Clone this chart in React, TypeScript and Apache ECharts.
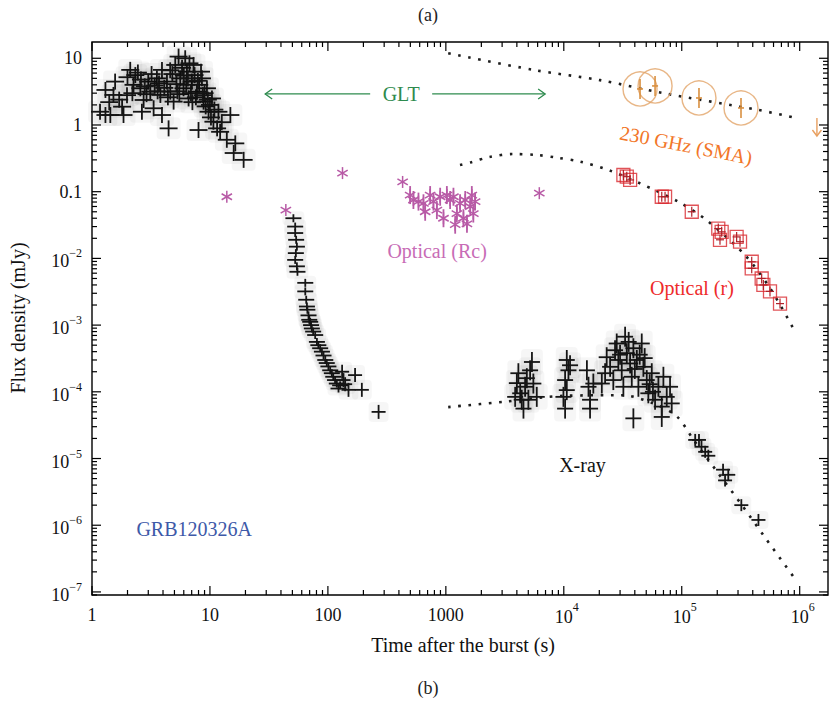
import React, { useEffect, useRef } from 'react';
import * as echarts from 'echarts';

// ---------------- data (time in s, flux density in mJy) ----------------
const batPoints: [number, number][] = [
  [1.17, 1.58], [1.3, 1.41], [1.43, 1.41], [1.3, 3.35], [1.57, 4.47], [1.52, 2.82], [1.85, 1.41], [1.8, 1.88],
  [2.11, 6.7], [2.33, 5.6], [2.25, 4.0], [1.98, 2.8], [2.57, 3.55], [2.74, 2.37], [2.65, 1.58], [3.0, 4.47],
  [3.12, 3.16], [3.33, 1.78], [3.55, 5.0], [3.8, 2.82], [3.92, 6.7], [3.92, 1.41], [4.46, 0.89], [4.32, 4.47],
  [4.61, 3.16], [4.92, 2.24], [5.08, 7.94], [5.42, 10.6], [5.6, 5.0], [5.97, 3.55], [6.17, 10], [6.38, 6.3],
  [6.59, 2.5], [7.03, 4.47], [7.26, 7.94], [7.76, 3.16], [8.0, 0.84], [8.55, 5.0], [8.83, 2.24], [9.43, 3.55],
  [9.73, 1.58], [10.4, 2.5], [10.7, 1.12], [11.5, 0.89], [12.2, 0.79], [11.8, 1.58], [14.9, 1.41], [13.9, 0.6],
  [16.4, 0.53], [15.9, 0.38], [19.3, 0.3],
  [2.0, 5.2], [2.45, 6.1], [2.9, 2.9], [3.4, 3.9], [3.7, 4.2], [4.1, 3.6], [4.4, 2.6], [4.8, 5.8], [5.2, 4.1],
  [5.5, 2.9], [5.8, 7.2], [6.0, 5.5], [6.3, 4.0], [6.7, 8.4], [6.9, 3.0], [7.4, 5.6], [7.6, 2.6], [8.1, 4.0],
  [8.4, 6.3], [9.0, 3.0], [9.2, 1.9], [10.0, 2.0], [10.2, 1.3], [10.9, 1.7], [1.7, 2.4], [2.2, 3.0], [2.6, 4.8],
  [3.2, 5.8], [1.4, 2.2], [12.6, 1.1], [4.6, 6.6], [5.3, 3.2], [6.5, 5.0], [7.1, 2.2], [7.9, 4.6], [8.7, 2.8],
  [9.6, 2.4], [3.6, 3.2], [2.8, 3.8],
];

const xrtSteep: [number, number][] = [
  [51, 0.04], [52.8, 0.03], [52.8, 0.024], [53.8, 0.019], [54.6, 0.015], [53.5, 0.012], [52.8, 0.0095],
  [54.6, 0.0076], [55.2, 0.0063], [64.3, 0.0043], [64.3, 0.0032], [65.5, 0.0024], [66.4, 0.0019],
  [67, 0.0017], [68.5, 0.0014], [69.5, 0.0012], [70.8, 0.00112], [72, 0.001], [73.1, 0.00089], [75, 0.0008],
  [78, 0.00071], [80.7, 0.00056], [83, 0.0005], [86, 0.00045], [89, 0.0004], [91.8, 0.00035], [95, 0.0003],
  [97.8, 0.00027], [101, 0.00024], [104.6, 0.00021], [108, 0.00019], [111, 0.000168], [115, 0.00015],
  [119, 0.000133], [123, 0.000112], [127, 0.000125],
];

const xrtTail: [number, number][] = [
  [132, 0.0002], [135.6, 0.00015], [140, 0.00013], [149.5, 0.000107], [170, 0.000178], [194, 0.000107],
  [269, 0.00005],
];

const xrtPlateau: [number, number][] = [
  [4000, 1.35e-4], [4120, 1.9e-4], [4270, 9.5e-5], [4400, 7.6e-5], [4550, 5.6e-5], [4700, 1.19e-4],
  [4860, 1.6e-4], [5180, 2.1e-4], [5370, 2.8e-4], [5520, 1.33e-4], [5900, 8.4e-5], [3870, 8.4e-5], [5010, 7.6e-5],
  [10600, 3.0e-4], [10950, 2.1e-4], [10260, 1.5e-4], [10600, 1.06e-4], [9930, 8.4e-5], [10260, 5.6e-5],
  [11300, 2.5e-4],
  [15700, 2.1e-4], [16200, 1.19e-4], [16700, 7.6e-5], [16700, 5.6e-5], [17800, 1.33e-4],
  [21000, 1.33e-4], [22400, 1.9e-4], [23100, 3.3e-4], [24700, 2.37e-4], [27200, 4.2e-4], [28100, 5.3e-4],
  [29000, 3.0e-4], [31000, 2.1e-4], [33100, 6.7e-4], [34200, 3.8e-4], [36500, 2.66e-4], [37700, 1.68e-4],
  [38900, 4.5e-4], [41600, 3.0e-4], [42900, 1.19e-4], [45800, 5.3e-4], [47300, 2.37e-4], [50500, 1.5e-4],
  [52100, 9.5e-5], [55700, 1.9e-4], [59400, 7.6e-5], [63400, 1.19e-4], [67700, 6e-5], [69900, 1.68e-4],
  [74600, 8.4e-5], [79600, 1.19e-4], [82200, 6.7e-5], [38900, 4.0e-5], [67700, 4.2e-5], [26300, 1.5e-4],
  [32000, 1.19e-4], [30000, 3.6e-4], [35500, 5.6e-4], [40000, 2.2e-4], [44000, 3.6e-4], [48500, 3.2e-4],
  [53500, 1.3e-4], [57000, 1.0e-4],
];

const xrtDecay: [number, number][] = [
  [130000, 1.9e-5], [140000, 1.9e-5], [147000, 1.5e-5], [158000, 1.26e-5], [168000, 1.1e-5],
  [224000, 6.8e-6], [248000, 5.7e-6], [233000, 4.7e-6], [320000, 2.0e-6], [447000, 1.2e-6],
];

const rcSingles: [number, number][] = [
  [13.9, 0.084], [44, 0.053], [133, 0.19], [430, 0.14], [6200, 0.095],
];

const rcCluster: [number, number][] = [
  [498, 0.089], [531, 0.075], [586, 0.071], [668, 0.05], [646, 0.067], [736, 0.089], [785, 0.071], [839, 0.053],
  [895, 0.084], [955, 0.04], [1020, 0.089], [1087, 0.075], [1160, 0.084], [1240, 0.047], [1320, 0.067],
  [1410, 0.04], [1460, 0.075], [1660, 0.089], [1610, 0.06], [1710, 0.047], [1770, 0.071], [1200, 0.032],
  [1510, 0.033],
];

const rPoints: [number, number][] = [
  [32000, 0.178], [34200, 0.168], [36500, 0.15], [67700, 0.084], [72200, 0.084], [121600, 0.05],
  [204000, 0.028], [211000, 0.019], [218000, 0.025], [292000, 0.021], [312000, 0.0178], [392000, 0.0089],
  [392000, 0.0071], [476000, 0.005], [492000, 0.004], [560000, 0.0032], [681000, 0.0021],
];

const smaPoints: [number, number][] = [[44300, 3.47], [59400, 3.85], [140000, 2.54], [318000, 1.8]];
const smaUpperLimit: [number, number][] = [[1400000, 0.9]];

const radioModel: [number, number][] = [
  [1047, 11.9], [5520, 6.7], [20300, 4.7], [69800, 3.0], [447000, 1.68], [883000, 1.3],
];
const opticalModel: [number, number][] = [
  [1318, 0.251], [1622, 0.275], [2344, 0.331], [3715, 0.367], [5888, 0.355], [8710, 0.324], [13800, 0.282],
  [23900, 0.211], [44400, 0.133], [93300, 0.0708], [162000, 0.0376], [344000, 0.0112], [562000, 0.00355],
  [883000, 0.00089],
];
const xrayModel: [number, number][] = [
  [1047, 5.9e-5], [3162, 7.1e-5], [10000, 8.7e-5], [31600, 8.9e-5], [56200, 6.8e-5], [90600, 4.3e-5],
  [126000, 1.9e-5], [200000, 6.3e-6], [324000, 2.0e-6], [501000, 6.8e-7], [883000, 1.7e-7],
];

const xTickValues = [1, 10, 100, 1000, 1e4, 1e5, 1e6];
const xTickLabels: [string, string][] = [['1', ''], ['10', ''], ['100', ''], ['1000', ''], ['10', '4'], ['10', '5'], ['10', '6']];
const yTickValues = [10, 1, 0.1, 1e-2, 1e-3, 1e-4, 1e-5, 1e-6, 1e-7];
const yTickLabels: [string, string][] = [
  ['10', ''], ['1', ''], ['0.1', ''], ['10', '\u22122'], ['10', '\u22123'], ['10', '\u22124'], ['10', '\u22125'],
  ['10', '\u22126'], ['10', '\u22127'],
];

const gltSpan = { from: 29.4, to: 6950, flux: 2.92, labelT: 418 };

const annotations = [
  { text: 'GLT', t: 418, f: 2.92, color: '#2e8b4e', rot: 0 },
  { text: 'Optical (Rc)', t: 843, f: 0.0129, color: '#c86cb6', rot: 0 },
  { text: '230 GHz (SMA)', t: 108900, f: 0.5, color: '#f27628', rot: -0.19 },
  { text: 'Optical (r)', t: 122000, f: 0.0036, color: '#ee2a2a', rot: 0 },
  { text: 'X-ray', t: 14400, f: 8.0e-6, color: '#111111', rot: 0 },
  { text: 'GRB120326A', t: 7.35, f: 8.8e-7, color: '#3d59a8', rot: 0 },
];

// ---------------- layout constants ----------------
const X_MIN = 1;
const X_MAX = Math.pow(10, 6.24);
const Y_MIN = Math.pow(10, -7.046);
const Y_MAX = Math.pow(10, 1.244);
const FONT = '"Liberation Serif", "Times New Roman", serif';
const TICK_SIZE = 18;
const SUP_SIZE = 12;

let measureCtx: CanvasRenderingContext2D | null = null;
function measure(text: string, size: number): number {
  if (!measureCtx) measureCtx = document.createElement('canvas').getContext('2d');
  if (!measureCtx) return text.length * size * 0.5;
  measureCtx.font = `${size}px ${FONT}`;
  return measureCtx.measureText(text).width;
}

function crossSeries(name: string, data: [number, number][], hw: number, hh: number, color: string, lw: number, halo: boolean, z = 5) {
  return {
    type: 'custom',
    name,
    data,
    z,
    silent: true,
    clip: false,
    renderItem: (params: any, api: any) => {
      const p = api.coord([api.value(0), api.value(1)]);
      const children: any[] = [];
      if (halo) {
        children.push({
          type: 'rect',
          shape: { x: p[0] - hw - 3, y: p[1] - hh - 3, width: 2 * hw + 6, height: 2 * hh + 6, r: 4 },
          style: { fill: 'rgba(0,0,0,0.035)' },
        });
      }
      children.push({ type: 'line', shape: { x1: p[0] - hw, y1: p[1], x2: p[0] + hw, y2: p[1] }, style: { stroke: color, lineWidth: lw } });
      children.push({ type: 'line', shape: { x1: p[0], y1: p[1] - hh, x2: p[0], y2: p[1] + hh }, style: { stroke: color, lineWidth: lw } });
      return { type: 'group', children };
    },
  };
}

function starSeries(name: string, data: [number, number][], r: number, bar: number, color: string) {
  return {
    type: 'custom',
    name,
    data,
    z: 6,
    silent: true,
    clip: false,
    renderItem: (params: any, api: any) => {
      const p = api.coord([api.value(0), api.value(1)]);
      const children: any[] = [];
      const angles = [Math.PI / 2, Math.PI / 6, (5 * Math.PI) / 6];
      angles.forEach((a) => {
        const dx = Math.cos(a) * r;
        const dy = Math.sin(a) * r;
        children.push({ type: 'line', shape: { x1: p[0] - dx, y1: p[1] - dy, x2: p[0] + dx, y2: p[1] + dy }, style: { stroke: color, lineWidth: 1.5 } });
      });
      if (bar > 0) {
        children.push({ type: 'line', shape: { x1: p[0], y1: p[1] - bar, x2: p[0], y2: p[1] + bar }, style: { stroke: color, lineWidth: 1.8 } });
      }
      return { type: 'group', children };
    },
  };
}

function dottedLine(name: string, data: [number, number][]) {
  return {
    type: 'line',
    name,
    data,
    z: 3,
    silent: true,
    showSymbol: false,
    smooth: 0.3,
    lineStyle: { color: '#1e1e1e', width: 2.6, type: [2.6, 7.6] },
  };
}

export default function App() {
  const ref = useRef<HTMLDivElement>(null);

  useEffect(() => {
    document.body.style.margin = '0';
    if (!ref.current) return;
    const chart = echarts.init(ref.current, null, { renderer: 'svg' });

    const ticksSeries = {
      type: 'custom',
      name: 'axes',
      data: [[1, 1]],
      z: 10,
      silent: true,
      clip: false,
      renderItem: (params: any, api: any) => {
        const cs = params.coordSys;
        const left = cs.x;
        const right = cs.x + cs.width;
        const top = cs.y;
        const bottom = cs.y + cs.height;
        const children: any[] = [];
        const tick = (x1: number, y1: number, x2: number, y2: number) =>
          children.push({ type: 'line', shape: { x1, y1, x2, y2 }, style: { stroke: '#000', lineWidth: 1.2 } });
        const text = (t: string, x: number, y: number, size: number, align: string) =>
          children.push({
            type: 'text',
            style: { text: t, x, y, font: `${size}px ${FONT}`, fill: '#111', align, verticalAlign: 'middle' },
          });
        xTickValues.forEach((v, i) => {
          const x = api.coord([v, Y_MIN])[0];
          tick(x, bottom, x, bottom - 9);
          tick(x, top, x, top + 9);
          for (let m = 2; m <= 9; m++) {
            const mv = v * m;
            if (mv > X_MAX) break;
            const mx = api.coord([mv, Y_MIN])[0];
            tick(mx, bottom, mx, bottom - 5);
            tick(mx, top, mx, top + 5);
          }
          const [base, sup] = xTickLabels[i];
          if (!sup) {
            text(base, x, bottom + 20, TICK_SIZE, 'center');
          } else {
            const wb = measure(base, TICK_SIZE);
            text(base, x, bottom + 22, TICK_SIZE, 'center');
            text(sup, x + wb / 2, bottom + 12, SUP_SIZE, 'left');
          }
        });
        yTickValues.forEach((v, i) => {
          const y = api.coord([X_MIN, v])[1];
          tick(left, y, left + 9, y);
          tick(right, y, right - 9, y);
          for (let m = 2; m <= 9; m++) {
            const mv = v * m;
            if (mv > Y_MAX) break;
            const my = api.coord([X_MIN, mv])[1];
            tick(left, my, left + 5, my);
            tick(right, my, right - 5, my);
          }
          const [base, sup] = yTickLabels[i];
          const rx = left - 10;
          if (!sup) {
            text(base, rx, y, TICK_SIZE, 'right');
          } else {
            const ws = measure(sup, SUP_SIZE);
            text(sup, rx, y - 5, SUP_SIZE, 'right');
            text(base, rx - ws, y + 3, TICK_SIZE, 'right');
          }
        });
        for (let m = 2; m <= 9; m++) {
          const mv = 1e-8 * m;
          if (mv < Y_MIN) continue;
          const my = api.coord([X_MIN, mv])[1];
          tick(left, my, left + 5, my);
          tick(right, my, right - 5, my);
        }
        return { type: 'group', children };
      },
    };

    const gltSeries = {
      type: 'custom',
      name: 'GLT',
      data: [[gltSpan.labelT, gltSpan.flux]],
      z: 7,
      silent: true,
      clip: false,
      renderItem: (params: any, api: any) => {
        const a = api.coord([gltSpan.from, gltSpan.flux]);
        const b = api.coord([gltSpan.to, gltSpan.flux]);
        const c = api.coord([gltSpan.labelT, gltSpan.flux]);
        const col = '#2e8b4e';
        const st = { stroke: col, lineWidth: 1.3, fill: 'none' };
        return {
          type: 'group',
          children: [
            { type: 'line', shape: { x1: a[0], y1: a[1], x2: c[0] - 31, y2: a[1] }, style: st },
            { type: 'line', shape: { x1: c[0] + 31, y1: b[1], x2: b[0], y2: b[1] }, style: st },
            { type: 'polyline', shape: { points: [[a[0] + 7, a[1] - 5], [a[0], a[1]], [a[0] + 7, a[1] + 5]] }, style: st },
            { type: 'polyline', shape: { points: [[b[0] - 7, b[1] - 5], [b[0], b[1]], [b[0] - 7, b[1] + 5]] }, style: st },
          ],
        };
      },
    };

    const annotationSeries = {
      type: 'custom',
      name: 'labels',
      data: annotations.map((a) => [a.t, a.f]),
      z: 8,
      silent: true,
      clip: false,
      renderItem: (params: any, api: any) => {
        const a = annotations[params.dataIndex];
        const p = api.coord([api.value(0), api.value(1)]);
        return {
          type: 'text',
          x: p[0],
          y: p[1],
          rotation: a.rot,
          style: { text: a.text, x: 0, y: 0, font: `20px ${FONT}`, fill: a.color, align: 'center', verticalAlign: 'middle' },
        };
      },
    };

    const upperLimitSeries = {
      type: 'custom',
      name: 'SMA upper limit',
      data: smaUpperLimit,
      z: 6,
      silent: true,
      clip: false,
      renderItem: (params: any, api: any) => {
        const p = api.coord([api.value(0), api.value(1)]);
        const st = { stroke: '#e8a060', lineWidth: 1.4, fill: 'none' };
        return {
          type: 'group',
          children: [
            { type: 'line', shape: { x1: p[0], y1: p[1] - 10, x2: p[0], y2: p[1] + 8 }, style: st },
            { type: 'polyline', shape: { points: [[p[0] - 4.5, p[1] + 2], [p[0], p[1] + 8], [p[0] + 4.5, p[1] + 2]] }, style: st },
          ],
        };
      },
    };

    chart.setOption({
      animation: false,
      backgroundColor: '#ffffff',
      grid: { left: 92, right: 2, top: 42, bottom: 106, show: true, borderColor: '#000', borderWidth: 1.4, backgroundColor: 'rgba(0,0,0,0)' },
      xAxis: {
        type: 'log', logBase: 10, min: X_MIN, max: X_MAX,
        axisLine: { show: false }, axisTick: { show: false }, axisLabel: { show: false }, splitLine: { show: false },
      },
      yAxis: {
        type: 'log', logBase: 10, min: Y_MIN, max: Y_MAX,
        axisLine: { show: false }, axisTick: { show: false }, axisLabel: { show: false }, splitLine: { show: false },
      },
      graphic: [
        { type: 'text', x: 428, y: 15, style: { text: '(a)', font: `18px ${FONT}`, fill: '#222', align: 'center', verticalAlign: 'middle', textAlign: 'center', textVerticalAlign: 'middle' } },
        { type: 'text', x: 428, y: 688, style: { text: '(b)', font: `18px ${FONT}`, fill: '#222', align: 'center', verticalAlign: 'middle', textAlign: 'center', textVerticalAlign: 'middle' } },
        { type: 'text', x: 463, y: 645, style: { text: 'Time after the burst (s)', font: `20px ${FONT}`, fill: '#111', align: 'center', verticalAlign: 'middle', textAlign: 'center', textVerticalAlign: 'middle' } },
        { type: 'text', x: 18, y: 318, rotation: Math.PI / 2, style: { text: 'Flux density (mJy)', font: `20px ${FONT}`, fill: '#111', align: 'center', verticalAlign: 'middle', textAlign: 'center', textVerticalAlign: 'middle' } },
      ],
      series: [
        dottedLine('radio model', radioModel),
        dottedLine('optical model', opticalModel),
        dottedLine('x-ray model', xrayModel),
        crossSeries('BAT', batPoints, 9, 8, '#161616', 1.8, true),
        crossSeries('XRT steep', xrtSteep, 8, 4, '#161616', 1.8, true),
        crossSeries('XRT tail', xrtTail, 7, 7, '#161616', 1.8, true),
        crossSeries('XRT plateau', xrtPlateau, 8, 10, '#161616', 1.8, true),
        crossSeries('XRT decay', xrtDecay, 7, 6, '#161616', 1.8, true),
        starSeries('Rc singles', rcSingles, 6, 0, '#b85aa6'),
        starSeries('Rc cluster', rcCluster, 6, 9, '#b85aa6'),
        {
          type: 'scatter', name: 'Optical r', data: rPoints, z: 6, silent: true, symbol: 'rect', symbolSize: 13,
          itemStyle: { color: 'rgba(255,255,255,0)', borderColor: '#d8282e', borderWidth: 1.3 },
        },
        crossSeries('Optical r err', rPoints, 4, 5, '#b02028', 1.2, false, 7),
        {
          type: 'scatter', name: 'SMA', data: smaPoints, z: 6, silent: true, symbol: 'circle', symbolSize: 34,
          itemStyle: { color: 'rgba(255,255,255,0)', borderColor: '#e2a468', borderWidth: 1.4 },
        },
        crossSeries('SMA err', smaPoints, 3, 10, '#d99040', 1.6, false, 7),
        upperLimitSeries,
        gltSeries,
        annotationSeries,
        ticksSeries,
      ],
    } as any);

    return () => chart.dispose();
  }, []);

  return <div ref={ref} style={{ width: 830, height: 701 }} />;
}
